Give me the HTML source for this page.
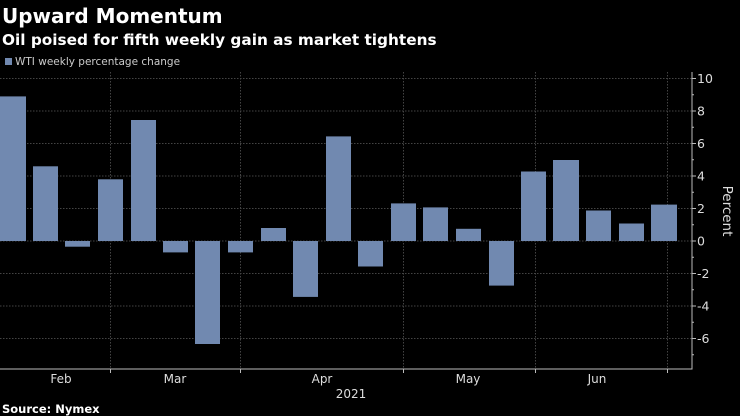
<!DOCTYPE html>
<html><head><meta charset="utf-8"><style>
html,body{margin:0;padding:0;background:#000;}
svg{display:block;}
</style></head><body>
<svg width="740" height="416" xmlns="http://www.w3.org/2000/svg">
<rect width="740" height="416" fill="#000"/>
<text x="2" y="23" fill="#fff" font-family="DejaVu Sans, Liberation Sans, sans-serif" font-weight="bold" font-size="20">Upward Momentum</text>
<text x="2" y="45" fill="#fff" font-family="DejaVu Sans, Liberation Sans, sans-serif" font-weight="bold" font-size="15.3">Oil poised for fifth weekly gain as market tightens</text>
<rect x="5" y="58" width="7" height="7" fill="#7189b0"/>
<text x="15" y="65" fill="#ccc" font-family="DejaVu Sans, Liberation Sans, sans-serif" font-size="10.5">WTI weekly percentage change</text>
<g stroke="#444" stroke-width="1" stroke-dasharray="1.5,1.5">
<line x1="0" x2="692" y1="78.5" y2="78.5"/>
<line x1="0" x2="692" y1="111" y2="111"/>
<line x1="0" x2="692" y1="143.5" y2="143.5"/>
<line x1="0" x2="692" y1="176" y2="176"/>
<line x1="0" x2="692" y1="208.5" y2="208.5"/>
<line x1="0" x2="692" y1="241" y2="241"/>
<line x1="0" x2="692" y1="273.5" y2="273.5"/>
<line x1="0" x2="692" y1="306" y2="306"/>
<line x1="0" x2="692" y1="338.5" y2="338.5"/>
<line x1="110.5" x2="110.5" y1="72" y2="369"/>
<line x1="240.5" x2="240.5" y1="72" y2="369"/>
<line x1="403.5" x2="403.5" y1="72" y2="369"/>
<line x1="535.5" x2="535.5" y1="72" y2="369"/>
<line x1="667.5" x2="667.5" y1="72" y2="369"/>
</g>
<g fill="#7189b0">
<rect x="0" y="96.4" width="26" height="144.6"/>
<rect x="33" y="166.3" width="25" height="74.7"/>
<rect x="65" y="241" width="25" height="5.7"/>
<rect x="98" y="179.3" width="25" height="61.7"/>
<rect x="131" y="120" width="25" height="121"/>
<rect x="163" y="241" width="25" height="11.4"/>
<rect x="195" y="241" width="25" height="103"/>
<rect x="228" y="241" width="25" height="11.4"/>
<rect x="261" y="228" width="25" height="13"/>
<rect x="293" y="241" width="25" height="55.9"/>
<rect x="326" y="136.4" width="25" height="104.6"/>
<rect x="358" y="241" width="25" height="25.5"/>
<rect x="391" y="203.4" width="25" height="37.6"/>
<rect x="423" y="207.4" width="25" height="33.6"/>
<rect x="456" y="228.8" width="25" height="12.2"/>
<rect x="489" y="241" width="25" height="44.6"/>
<rect x="521" y="171.5" width="25" height="69.5"/>
<rect x="553" y="160" width="26" height="81"/>
<rect x="586" y="210.5" width="25" height="30.5"/>
<rect x="619" y="223.5" width="25" height="17.5"/>
<rect x="651" y="204.6" width="26" height="36.4"/>
</g>
<g stroke="#bbb" stroke-width="1">
<line x1="0" x2="692.5" y1="369" y2="369"/>
<line x1="692" x2="692" y1="72" y2="369"/>
<line x1="110.5" x2="110.5" y1="369" y2="373"/>
<line x1="240.5" x2="240.5" y1="369" y2="373"/>
<line x1="403.5" x2="403.5" y1="369" y2="373"/>
<line x1="535.5" x2="535.5" y1="369" y2="373"/>
<line x1="667.5" x2="667.5" y1="369" y2="373"/>
<line x1="692" x2="696" y1="78.5" y2="78.5"/>
<line x1="692" x2="694" y1="94.75" y2="94.75"/>
<line x1="692" x2="696" y1="111" y2="111"/>
<line x1="692" x2="694" y1="127.25" y2="127.25"/>
<line x1="692" x2="696" y1="143.5" y2="143.5"/>
<line x1="692" x2="694" y1="159.75" y2="159.75"/>
<line x1="692" x2="696" y1="176" y2="176"/>
<line x1="692" x2="694" y1="192.25" y2="192.25"/>
<line x1="692" x2="696" y1="208.5" y2="208.5"/>
<line x1="692" x2="694" y1="224.75" y2="224.75"/>
<line x1="692" x2="696" y1="241" y2="241"/>
<line x1="692" x2="694" y1="257.25" y2="257.25"/>
<line x1="692" x2="696" y1="273.5" y2="273.5"/>
<line x1="692" x2="694" y1="289.75" y2="289.75"/>
<line x1="692" x2="696" y1="306" y2="306"/>
<line x1="692" x2="694" y1="322.25" y2="322.25"/>
<line x1="692" x2="696" y1="338.5" y2="338.5"/>
<line x1="692" x2="694" y1="354.75" y2="354.75"/>
</g>
<g fill="#ddd" font-family="DejaVu Sans, Liberation Sans, sans-serif" font-size="12.5">
<text x="697" y="83">10</text>
<text x="697" y="115.5">8</text>
<text x="697" y="148">6</text>
<text x="697" y="180.5">4</text>
<text x="697" y="213">2</text>
<text x="697" y="245.5">0</text>
<text x="697" y="278">-2</text>
<text x="697" y="310.5">-4</text>
<text x="697" y="343">-6</text>
</g>
<text transform="translate(723,211) rotate(90)" fill="#ddd" font-family="DejaVu Sans, Liberation Sans, sans-serif" font-size="13.5" text-anchor="middle">Percent</text>
<g fill="#ddd" font-family="DejaVu Sans, Liberation Sans, sans-serif" font-size="12" text-anchor="middle">
<text x="61" y="383">Feb</text>
<text x="175" y="383">Mar</text>
<text x="322" y="383">Apr</text>
<text x="468" y="383">May</text>
<text x="597" y="383">Jun</text>
<text x="351" y="398">2021</text>
</g>
<text x="2" y="413" fill="#fff" font-family="DejaVu Sans, Liberation Sans, sans-serif" font-weight="bold" font-size="11.5">Source: Nymex</text>
</svg>
</body></html>
